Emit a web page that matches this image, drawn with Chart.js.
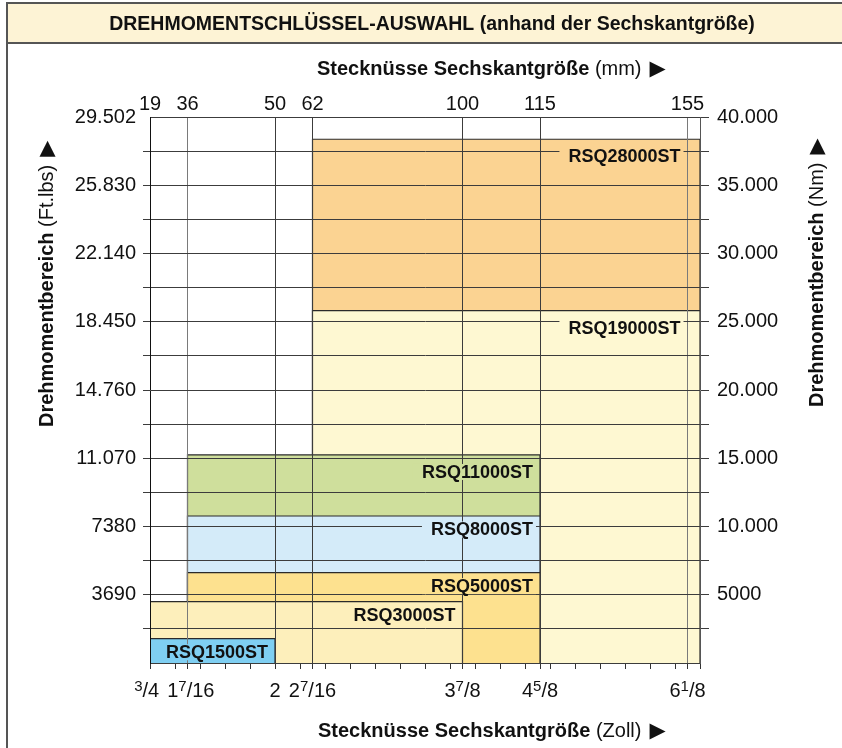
<!DOCTYPE html>
<html>
<head>
<meta charset="utf-8">
<script src="https://cdn.jsdelivr.net/npm/chart.js@4.4.0/dist/chart.umd.min.js"></script>
<style>
html,body{margin:0;padding:0;background:#fff;}
#wrap{width:842px;height:748px;position:relative;}
canvas{display:block;}
</style>
</head>
<body>
<div id="wrap"><canvas id="c" width="842" height="748"></canvas></div>
<script>
// ---- data ----
const sizesMm   = [19, 36, 50, 62, 100, 115, 155];
const sizesZoll = ['3/4', '1 7/16', '2', '2 7/16', '3 7/8', '4 5/8', '6 1/8'];
const sizeStops = [0, 1.5, 5, 6.5, 12.5, 15.6, 21.5];   // schematic (non-linear) axis position of each size
const axisEnd   = 22;

const models  = ['RSQ1500ST', 'RSQ3000ST', 'RSQ5000ST', 'RSQ8000ST', 'RSQ11000ST', 'RSQ19000ST', 'RSQ28000ST'];
const fromMm  = [19, 19, 36, 36, 36, 62, 62];
const toMm    = [50, 100, 115, 115, 115, null, null];   // null = open ended
const maxNm   = [1780, 4490, 6620, 10770, 15240, 25810, 38370];

const nmLabels    = ['5000', '10.000', '15.000', '20.000', '25.000', '30.000', '35.000', '40.000'];
const ftLbsLabels = ['3690', '7380', '11.070', '14.760', '18.450', '22.140', '25.830', '29.502'];

// ---- styles ----
const fills = ['#7fcff2', '#fdefbb', '#fde18f', '#d4ebf9', '#cfdf9c', '#fef8d2', '#fbd392'];
const FONT = '"Liberation Sans", Arial, Helvetica, sans-serif';
const GRID = '#3c3c3c';

const pos = mm => mm == null ? axisEnd : sizeStops[sizesMm.indexOf(mm)];

const datasets = models.map((m, i) => {
  const a = pos(fromMm[i]), b = pos(toMm[i]);
  return {
    label: m,
    data: [{x: a, y: 0}, {x: a, y: maxNm[i]}, {x: b, y: maxNm[i]}, {x: b, y: 0}],
    fill: 'origin',
    backgroundColor: fills[i],
    borderColor: '#2a2a2a',
    borderWidth: 1.2,
    pointRadius: 0,
    pointHoverRadius: 0,
    tension: 0
  };
});

function drawRun(ctx, x, y, parts) {
  for (const p of parts) {
    ctx.font = p.font;
    x += (p.gap || 0);
    ctx.fillText(p.text, x, y - (p.rise || 0));
    x += ctx.measureText(p.text).width;
  }
  return x;
}
function runWidth(ctx, parts) {
  let w = 0;
  for (const p of parts) { ctx.font = p.font; w += (p.gap || 0) + ctx.measureText(p.text).width; }
  return w;
}
function zollParts(label) {
  const norm = '20px ' + FONT, sup = '15px ' + FONT;
  const sp = label.split(' ');
  const parts = [];
  const frac = sp[sp.length - 1];
  if (sp.length > 1) parts.push({text: sp[0], font: norm});
  if (frac.indexOf('/') >= 0) {
    const [n, d] = frac.split('/');
    parts.push({text: n, font: sup, rise: 6});
    parts.push({text: '/' + d, font: norm});
  } else {
    parts.push({text: frac, font: norm});
  }
  return parts;
}

const decor = {
  id: 'decor',
  beforeDraw(chart) {
    const ctx = chart.ctx;
    ctx.save();
    ctx.fillStyle = '#fff';
    ctx.fillRect(0, 0, chart.width, chart.height);
    ctx.restore();
  },
  afterDraw(chart) {
    const ctx = chart.ctx;
    const x = chart.scales.x, y = chart.scales.y;
    ctx.save();
    // header
    ctx.fillStyle = '#fdf3d5';
    ctx.fillRect(6, 3, chart.width - 6, 40);
    ctx.strokeStyle = '#555';
    ctx.lineWidth = 2;
    ctx.beginPath();
    ctx.moveTo(6, 3); ctx.lineTo(chart.width, 3);
    ctx.moveTo(6, 43); ctx.lineTo(chart.width, 43);
    ctx.moveTo(7, 2); ctx.lineTo(7, chart.height);
    ctx.stroke();
    ctx.fillStyle = '#111';
    ctx.textAlign = 'center';
    ctx.textBaseline = 'alphabetic';
    ctx.font = 'bold 19.5px ' + FONT;
    ctx.fillText('DREHMOMENTSCHLÜSSEL-AUSWAHL (anhand der Sechskantgröße)', 432, 30);

    // bottom tick labels (inch fractions), pushed apart where they would collide
    ctx.textAlign = 'left';
    const items = sizesZoll.map((lab, k) => {
      const parts = zollParts(lab);
      return {parts, w: runWidth(ctx, parts), c: x.getPixelForValue(sizeStops[k])};
    });
    const gapMin = 8;
    for (let k = 0; k < items.length - 1; k++) {
      const a = items[k], b = items[k + 1];
      const over = (a.c + a.w / 2 + gapMin) - (b.c - b.w / 2);
      if (over > 0) { a.c -= over / 2; b.c += over / 2; }
    }
    items.forEach(it => drawRun(ctx, it.c - it.w / 2, 697, it.parts));

    // axis titles
    const tri = {text: '▶', font: '21px "DejaVu Sans", sans-serif', gap: 8};
    drawRun(ctx, 317, 75, [
      {text: 'Stecknüsse Sechskantgröße', font: 'bold 20px ' + FONT},
      {text: ' (mm)', font: '20px ' + FONT}, tri]);
    drawRun(ctx, 318, 737, [
      {text: 'Stecknüsse Sechskantgröße', font: 'bold 20px ' + FONT},
      {text: ' (Zoll)', font: '20px ' + FONT}, tri]);

    ctx.save();
    ctx.translate(53, 427);
    ctx.rotate(-Math.PI / 2);
    drawRun(ctx, 0, 0, [
      {text: 'Drehmomentbereich', font: 'bold 20px ' + FONT},
      {text: ' (Ft.lbs)', font: '20px ' + FONT}, tri]);
    ctx.restore();

    ctx.save();
    ctx.translate(823, 407);
    ctx.rotate(-Math.PI / 2);
    drawRun(ctx, 0, 0, [
      {text: 'Drehmomentbereich', font: 'bold 20px ' + FONT},
      {text: ' (Nm)', font: '20px ' + FONT}, tri]);
    ctx.restore();

    // bar labels with masking background
    ctx.font = 'bold 18px ' + FONT;
    ctx.textAlign = 'right';
    ctx.textBaseline = 'middle';
    models.forEach((m, i) => {
      const right = x.getPixelForValue(pos(toMm[i] == null ? 155 : toMm[i])) - 7;
      const cy = y.getPixelForValue(maxNm[i]) + (i >= 4 ? 17 : 13.5);
      const w = ctx.measureText(m).width;
      ctx.fillStyle = fills[i];
      ctx.fillRect(right - w - 9, cy - 8, w + 12, 16);
      ctx.fillStyle = '#111';
      ctx.fillText(m, right, cy + 1);
    });
    ctx.restore();
  }
};

const tickFont = {family: FONT, size: 20};

new Chart(document.getElementById('c'), {
  type: 'line',
  data: {datasets},
  plugins: [decor],
  options: {
    responsive: false,
    devicePixelRatio: 1,
    animation: false,
    events: [],
    layout: {padding: 0},
    plugins: {legend: {display: false}, tooltip: {enabled: false}, title: {display: false}},
    scales: {
      x: {
        type: 'linear', position: 'bottom', min: 0, max: axisEnd,
        afterBuildTicks: s => {
          const v = new Set();
          for (let i = 0; i <= axisEnd; i++) v.add(i);
          sizeStops.forEach(p => v.add(p));
          s.ticks = [...v].sort((a, b) => a - b).map(value => ({value}));
        },
        afterFit: s => { s.height = 85; },
        ticks: {
          autoSkip: false, maxRotation: 0, minRotation: 0, padding: 2,
          font: tickFont, color: '#111',
          callback: () => ''
        },
        grid: {
          z: 1,
          color: c => {
            if (!c.tick || !(c.tick.value > 0) || !sizeStops.includes(c.tick.value)) return 'rgba(0,0,0,0)';
            return (c.tick.value === sizeStops[1] || c.tick.value === sizeStops[6]) ? '#7a7a7a' : GRID;
          },
          tickColor: '#333', tickLength: 6, lineWidth: 1
        },
        border: {color: '#111', width: 1, z: 1}
      },
      x2: {
        type: 'linear', position: 'top', min: 0, max: axisEnd,
        afterBuildTicks: s => { s.ticks = sizeStops.map(value => ({value})); },
        afterFit: s => { s.height = 117; },
        ticks: {
          autoSkip: false, maxRotation: 0, minRotation: 0, padding: 1,
          font: tickFont, color: '#111',
          callback: v => { const k = sizeStops.indexOf(v); return k >= 0 ? String(sizesMm[k]) : ''; }
        },
        grid: {drawOnChartArea: false, drawTicks: false},
        border: {color: '#111', width: 1, z: 1}
      },
      y: {
        type: 'linear', position: 'left', min: 0, max: 40000,
        afterFit: s => { s.width = 150; },
        ticks: {
          stepSize: 2500, autoSkip: false, padding: 7, font: tickFont, color: '#111',
          callback: v => (v % 5000 === 0 && v > 0) ? ftLbsLabels[v / 5000 - 1] : ''
        },
        grid: {
          z: 1,
          color: GRID, lineWidth: 1, tickLength: 7,
          tickColor: c => (c.tick && (c.tick.value === 0 || c.tick.value === 40000)) ? 'rgba(0,0,0,0)' : GRID
        },
        border: {color: '#111', width: 1, z: 1}
      },
      y2: {
        type: 'linear', position: 'right', min: 0, max: 40000,
        afterFit: s => { s.width = 142; },
        ticks: {
          stepSize: 2500, autoSkip: false, padding: 8, font: tickFont, color: '#111',
          callback: v => (v % 5000 === 0 && v > 0) ? nmLabels[v / 5000 - 1] : ''
        },
        grid: {
          drawOnChartArea: false, tickLength: 9,
          tickColor: c => (c.tick && c.tick.value === 0) ? 'rgba(0,0,0,0)' : GRID
        },
        border: {color: '#555', width: 1, z: 1}
      }
    }
  }
});
</script>
</body>
</html>
